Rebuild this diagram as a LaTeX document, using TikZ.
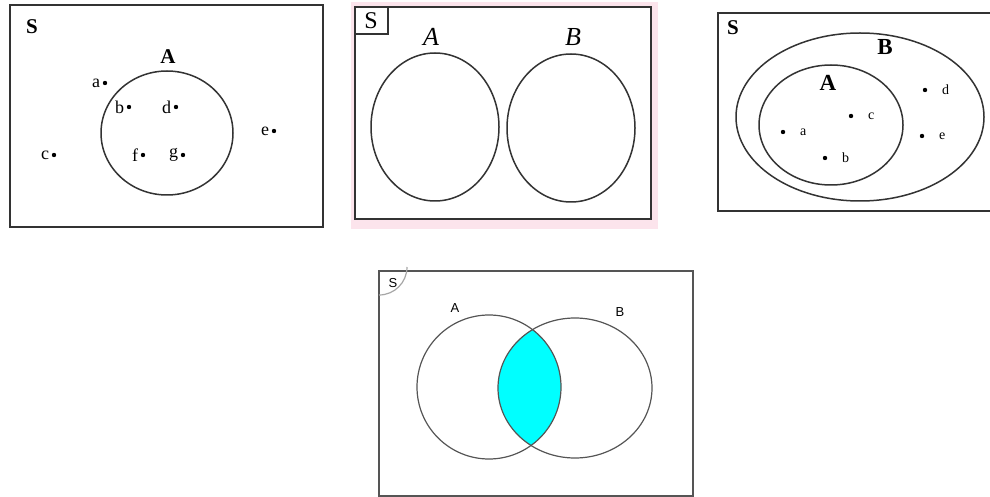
\documentclass[tikz,border=0pt]{standalone}
\usepackage{fontspec}
\setmainfont{Liberation Serif}
\newfontfamily\arialfont{Liberation Sans}
\usetikzlibrary{positioning}
\definecolor{ink}{HTML}{333333}
\definecolor{pencil}{HTML}{555555}
\definecolor{softpink}{HTML}{FCE4EC}
\definecolor{lens}{HTML}{00FFFF}
\tikzset{
  frame/.style={draw=ink, line width=1pt},
  thinframe/.style={draw=pencil, line width=0.7pt},
  setline/.style={draw=ink, line width=0.75pt},
  thinset/.style={draw=pencil, line width=0.6pt},
  dot/.style={circle, fill=black, inner sep=0pt, minimum size=2.2pt},
  dotlabel/.style={font=\fontsize{9}{9}\selectfont, inner sep=1pt},
  smalllabel/.style={font=\fontsize{7}{7}\selectfont, inner sep=1pt},
  boldtitle/.style={font=\fontsize{10.5}{10.5}\selectfont\bfseries, inner sep=0pt},
  itTitle/.style={font=\fontsize{13}{13}\selectfont\itshape, inner sep=0pt},
  sanstitle/.style={font=\fontsize{6.5}{6.5}\selectfont\arialfont, inner sep=0pt}
}
\begin{document}
\begin{tikzpicture}[x=0.5pt, y=-0.5pt]
\useasboundingbox (0,0) rectangle (990,497);

% Panel 1: set A with loose elements
\draw[frame] (10,5) rectangle (323,227);
\node[boldtitle] (s1) at (32,27) {S};
\draw[setline] (167,133) ellipse [x radius=33pt, y radius=31pt];
\node[boldtitle] (a1title) at (168,57) {A};
\node[dot, label={[dotlabel]left:a}] (p1a) at (105,83) {};
\node[dot, label={[dotlabel]left:b}] (p1b) at (129,107) {};
\node[dot, label={[dotlabel]left:d}] (p1d) at (176,107) {};
\node[dot, label={[dotlabel]left:e}] (p1e) at (274,131) {};
\node[dot, label={[dotlabel]left:c}] (p1c) at (54,155) {};
\node[dot, label={[dotlabel]left:f}] (p1f) at (143,155) {};
\node[dot, label={[dotlabel]left:g}] (p1g) at (183,155) {};

% Panel 2: two disjoint sets
\fill[softpink] (351,2) rectangle (658,229);
\draw[frame, fill=white] (355,7) rectangle (651,219);
\draw[frame] (355,34) -| (388,7);
\node[font=\fontsize{12}{12}\selectfont, inner sep=0pt] (s2) at (371,21) {S};
\node[itTitle] (a2title) at (431,37) {A};
\node[itTitle] (b2title) at (573,37) {B};
\draw[setline] (435,127) ellipse [x radius=32pt, y radius=37pt];
\draw[setline] (571,128) ellipse [x radius=32pt, y radius=37pt];

% Panel 3: A inside B (right edge runs off the page)
\draw[frame, line width=1.3pt] (991,13) -- (718,13) -- (718,211) -- (991,211);
\node[boldtitle] (s3) at (733,28) {S};
\draw[setline] (860,117) ellipse [x radius=62pt, y radius=42pt];
\draw[setline] (831,125) ellipse [x radius=36pt, y radius=30pt];
\node[boldtitle, font=\fontsize{11.5}{11.5}\selectfont\bfseries] (b3title) at (885,47) {B};
\node[boldtitle, font=\fontsize{11.5}{11.5}\selectfont\bfseries] (a3title) at (828,83) {A};
\node[dot, label={[smalllabel, label distance=6pt]right:a}] (p3a) at (783,132) {};
\node[dot, label={[smalllabel, label distance=6pt]right:c}] (p3c) at (851,116) {};
\node[dot, label={[smalllabel, label distance=6pt]right:b}] (p3b) at (825,158) {};
\node[dot, label={[smalllabel, label distance=6pt]right:d}] (p3d) at (925,90) {};
\node[dot, label={[smalllabel, label distance=6pt]right:e}] (p3e) at (922,136) {};

% Panel 4: intersection of A and B, shaded
\coordinate (corner) at (379,271);
\coordinate (ca) at (489,387);
\coordinate (cb) at (575,388);
\begin{scope}
  \clip (ca) ellipse [x radius=36pt, y radius=36pt];
  \fill[lens] (cb) ellipse [x radius=38.5pt, y radius=35pt];
\end{scope}
\draw[thinframe] (corner) rectangle (693,496);
\draw[thinset, draw=gray!70] ([yshift=-12pt]corner) arc [start angle=270, end angle=360, radius=14pt];
\node[sanstitle] (s4) at (393,283) {S};
\node[sanstitle] (a4title) at (455,308) {A};
\node[sanstitle] (b4title) at (620,312) {B};
\draw[thinset] (ca) ellipse [x radius=36pt, y radius=36pt];
\draw[thinset] (cb) ellipse [x radius=38.5pt, y radius=35pt];

\end{tikzpicture}
\end{document}
